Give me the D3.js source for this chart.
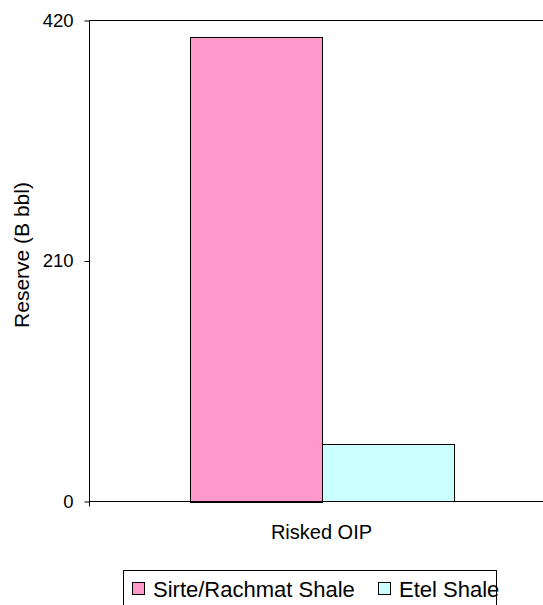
<!DOCTYPE html>
<html>
<head>
<meta charset="utf-8">
<script src="https://cdn.jsdelivr.net/npm/d3@7"></script>
<style>
  html, body { margin: 0; padding: 0; background: #fff; }
  svg { display: block; font-family: Arial, "Liberation Sans", sans-serif; }
</style>
</head>
<body>
<svg id="chart" width="543" height="605"></svg>
<script>
// Reserve estimates (billion barrels) for the shale units
const categories = ["Risked OIP"];
const seriesNames = ["Sirte/Rachmat Shale", "Etel Shale"];
const seriesValues = [[406], [50]];
const seriesColors = ["#FF99CC", "#CCFFFF"];
const yTicks = [0, 210, 420];
const yTitle = "Reserve (B bbl)";

const svg = d3.select("#chart");
const plotLeft = 89.5, plotTop = 20.5, plotBottom = 501.5, plotRight = 553.5;

const x = d3.scaleBand().domain(categories).range([plotLeft, plotRight]).paddingInner(0).paddingOuter(0);
const inner = d3.scaleBand().domain(seriesNames).range([0, x.bandwidth()]).paddingInner(0).paddingOuter(0.758);
const y = d3.scaleLinear().domain([0, 420]).range([plotBottom, plotTop]);

// bars
categories.forEach((c, ci) => {
  seriesNames.forEach((s, si) => {
    const v = seriesValues[si][ci];
    svg.append("rect")
      .attr("x", Math.round(x(c) + inner(s)) + 0.5)
      .attr("y", Math.round(y(v)) + 0.5)
      .attr("width", Math.round(inner.bandwidth()))
      .attr("height", Math.round(y(0) - y(v)))
      .attr("fill", seriesColors[si])
      .attr("stroke", "#000")
      .attr("stroke-width", 1);
  });
});

// top frame line
svg.append("line").attr("x1", plotLeft).attr("x2", 543).attr("y1", plotTop).attr("y2", plotTop)
  .attr("stroke", "#000").attr("stroke-width", 1);

// y axis
const yAxis = d3.axisLeft(y).tickValues(yTicks).tickSize(5).tickPadding(11).tickFormat(d3.format("d"));
const gy = svg.append("g").attr("transform", `translate(${plotLeft},0)`).call(yAxis);
gy.select(".domain").attr("d", `M0,${plotTop}V${plotBottom + 5}`).attr("stroke", "#000");
gy.selectAll(".tick line").attr("stroke", "#000");
gy.selectAll(".tick text").attr("font-size", 18.5).attr("fill", "#000").attr("font-family", "Arial, 'Liberation Sans', sans-serif");

// x axis
const xAxis = d3.axisBottom(x).tickSize(0).tickPadding(23);
const gx = svg.append("g").attr("transform", `translate(0,${plotBottom})`).call(xAxis);
gx.select(".domain").attr("d", `M${plotLeft},0H543`).attr("stroke", "#000");
gx.selectAll(".tick text").attr("font-size", 20).attr("fill", "#000").attr("font-family", "Arial, 'Liberation Sans', sans-serif");

// y axis title
svg.append("text")
  .attr("transform", `translate(21,255) rotate(-90)`)
  .attr("text-anchor", "middle")
  .attr("dominant-baseline", "central")
  .attr("font-size", 21)
  .text(yTitle);

// legend
const lg = svg.append("g");
lg.append("rect").attr("x", 123.5).attr("y", 570.5).attr("width", 373).attr("height", 50)
  .attr("fill", "#fff").attr("stroke", "#000").attr("stroke-width", 1);
const items = [{x: 132}, {x: 378}];
seriesNames.forEach((s, i) => {
  lg.append("rect").attr("x", items[i].x + 0.5).attr("y", 582.5).attr("width", 12).attr("height", 12)
    .attr("fill", seriesColors[i]).attr("stroke", "#000").attr("stroke-width", 1);
  lg.append("text").attr("x", items[i].x + 21).attr("y", 597).attr("font-size", 22).text(s);
});
</script>
</body>
</html>
